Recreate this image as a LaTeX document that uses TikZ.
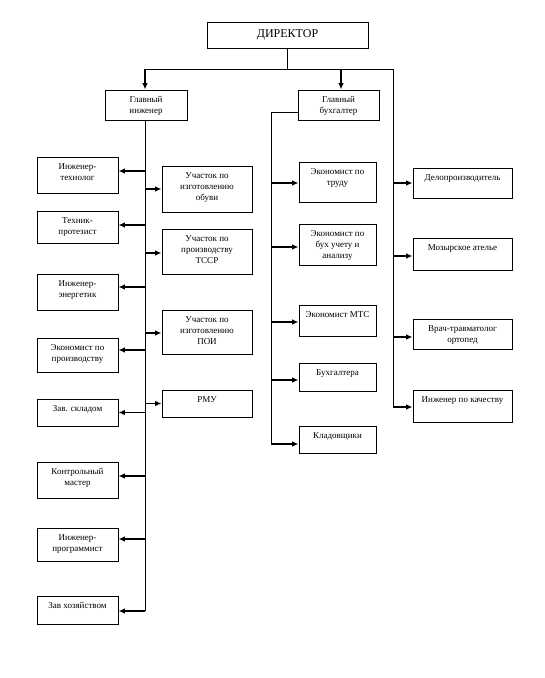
\documentclass[tikz,border=0pt]{standalone}
\usepackage{fontspec}
\setmainfont{Liberation Serif}
\usetikzlibrary{arrows.meta}
\tikzset{
    unit/.style={draw, line width=0.8pt, inner sep=0pt}, % рамка блока
    ttl/.style={label={[txt]north:#1}},
    txt/.style={anchor=north, align=center, font=\fontsize{9}{11}\selectfont, inner sep=4pt, yshift=-2.5pt},
    lbox/.style={unit, minimum width=81pt},
    ubox/.style={unit, minimum width=90pt},
    mbox/.style={unit, minimum width=77pt},
    rbox/.style={unit, minimum width=99pt},
    wire/.style={draw, line width=0.8pt},
    link/.style={draw, line width=1.3pt, -{Latex[length=6.5pt,width=5.5pt]}}
}

\begin{document}
\begin{tikzpicture}[x=1pt, y=-1pt]
	\useasboundingbox (0,0) rectangle (545,678);

	\node (dir) [unit, minimum width=161pt, minimum height=26pt, font=\fontsize{12}{14}\selectfont] at (287.5,35) {ДИРЕКТОР};
	\node (glavinzh) [unit, minimum width=82pt, minimum height=30pt, ttl={Главный\\инженер}] at (146,105) {};
	\node (glavbuh) [unit, minimum width=81pt, minimum height=30pt, ttl={Главный\\бухгалтер}] at (338.5,105) {};

	% левая колонка
	\node (tech) [lbox, minimum height=36pt, ttl={Инженер-\\технолог}] at (77.5,175) {};
	\node (protez) [lbox, minimum height=32pt, ttl={Техник-\\протезист}] at (77.5,227) {};
	\node (energ) [lbox, minimum height=36pt, ttl={Инженер-\\энергетик}] at (77.5,292) {};
	\node (econprod) [lbox, minimum height=34pt, ttl={Экономист по\\производству}] at (77.5,355) {};
	\node (sklad) [lbox, minimum height=27pt, ttl={Зав. складом}] at (77.5,412.5) {};
	\node (kontrol) [lbox, minimum height=36pt, ttl={Контрольный\\мастер}] at (77.5,480) {};
	\node (program) [lbox, minimum height=33pt, ttl={Инженер-\\программист}] at (77.5,544.5) {};
	\node (hoz) [lbox, minimum height=28pt, ttl={Зав хозяйством}] at (77.5,610) {};

	% участки
	\node (obuv) [ubox, minimum height=46pt, ttl={Участок по\\изготовлению\\обуви}] at (207,189) {};
	\node (tssr) [ubox, minimum height=45pt, ttl={Участок по\\производству\\ТССР}] at (207,251.5) {};
	\node (poi) [ubox, minimum height=44pt, ttl={Участок по\\изготовлению\\ПОИ}] at (207,332) {};
	\node (rmu) [ubox, minimum height=27pt, ttl={РМУ}] at (207,403.5) {};

	% бухгалтерия
	\node (trud) [mbox, minimum height=40pt, ttl={Экономист по\\труду}] at (337.5,182) {};
	\node (buhuch) [mbox, minimum height=41pt, ttl={Экономист по\\бух учету и\\анализу}] at (337.5,244.5) {};
	\node (mts) [mbox, minimum height=31pt, ttl={Экономист МТС}] at (337.5,320.5) {};
	\node (buhg) [mbox, minimum height=28pt, ttl={Бухгалтера}] at (337.5,377) {};
	\node (klad) [mbox, minimum height=27pt, ttl={Кладовщики}] at (337.5,439.5) {};

	% правая колонка
	\node (delo) [rbox, minimum height=30pt, ttl={Делопроизводитель}] at (462.5,183) {};
	\node (mozyr) [rbox, minimum height=32pt, ttl={Мозырское ателье}] at (462.5,254) {};
	\node (vrach) [rbox, minimum height=30pt, ttl={Врач-травматолог\\ортопед}] at (462.5,334) {};
	\node (kach) [rbox, minimum height=32pt, ttl={Инженер по качеству}] at (462.5,406) {};

	\coordinate (bus) at (287.5,69);
	\coordinate (lt) at (145,69);
	\coordinate (mb) at (341,69);
	\coordinate (rt) at (393,69);
	\coordinate (mt) at (271,112);

	\draw[wire] (dir.south) -- (bus);
	\draw[draw, line width=1pt] (lt) -- (rt);
	\draw[link] (lt) -- (lt |- glavinzh.north);
	\draw[link] (mb) -- (mb |- glavbuh.north);

	\draw[wire] (lt |- glavinzh.south) -- ([yshift=-1pt]hoz.east -| lt);
	\draw[wire] ([yshift=-7pt]glavbuh.west) -- (mt) -- ([yshift=-4.5pt]klad.west -| mt);
	\draw[wire] (rt) -- ([yshift=-1pt]kach.west -| rt);

	\foreach \n/\s in {tech/4, protez/2, energ/5, econprod/5, sklad/0, kontrol/4, program/5.5, hoz/-1}
		\draw[link] ([yshift=\s pt]\n.east -| lt) -- ([yshift=\s pt]\n.east);
	\foreach \n/\s in {obuv/0, tssr/-1.5, poi/-1, rmu/0}
		\draw[link] ([yshift=\s pt]\n.west -| lt) -- ([yshift=\s pt]\n.west);
	\foreach \n/\s in {trud/-1, buhuch/-2.5, mts/-1.5, buhg/-3, klad/-4.5}
		\draw[link] ([yshift=\s pt]\n.west -| mt) -- ([yshift=\s pt]\n.west);
	\foreach \n/\s in {delo/0, mozyr/-2, vrach/-3, kach/-1}
		\draw[link] ([yshift=\s pt]\n.west -| rt) -- ([yshift=\s pt]\n.west);
\end{tikzpicture}
\end{document}
